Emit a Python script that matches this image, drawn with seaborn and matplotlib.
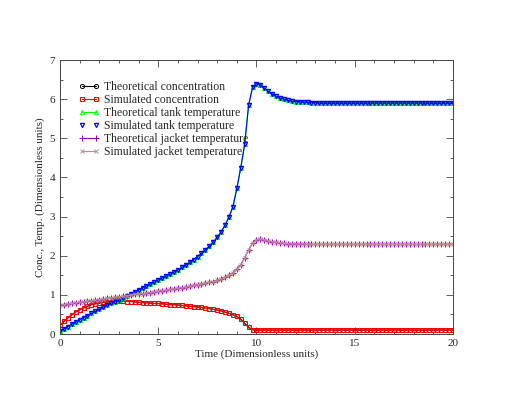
# Concentration and temperature vs time (theoretical vs simulated)

import numpy as np
import matplotlib
matplotlib.use("Agg")
import matplotlib.pyplot as plt
from matplotlib.ticker import MultipleLocator
from matplotlib.lines import Line2D
import seaborn as sns

# Time grid (dimensionless), sampled every 0.2
time = np.linspace(0, 20, 101)

# Concentration
conc = ([0.22, 0.32, 0.41, 0.49, 0.56, 0.62, 0.67, 0.71, 0.75, 0.77,
         0.79, 0.81, 0.82, 0.83, 0.84, 0.84, 0.84, 0.83, 0.83, 0.82,
         0.81, 0.80, 0.80, 0.79, 0.78, 0.78, 0.77, 0.76, 0.75, 0.75,
         0.74, 0.73, 0.72, 0.71, 0.70, 0.69, 0.68, 0.66, 0.65, 0.63,
         0.61, 0.59, 0.56, 0.53, 0.49, 0.45, 0.38, 0.27, 0.17, 0.11]
        + [0.10] * 51)

# Tank temperature
tank = ([0.08, 0.13, 0.19, 0.25, 0.31, 0.37, 0.42, 0.47, 0.53, 0.58,
         0.63, 0.69, 0.74, 0.79, 0.83, 0.88, 0.93, 0.98, 1.03, 1.08,
         1.13, 1.18, 1.23, 1.28, 1.33, 1.38, 1.43, 1.48, 1.53, 1.58,
         1.64, 1.70, 1.76, 1.83, 1.90, 1.98, 2.06, 2.15, 2.24, 2.35,
         2.47, 2.61, 2.78, 2.99, 3.25, 3.72, 4.25, 4.85, 5.85, 6.30,
         6.40, 6.37, 6.29, 6.20, 6.13, 6.07, 6.03, 6.00, 5.97, 5.95,
         5.94, 5.93, 5.92, 5.92, 5.91, 5.91, 5.90, 5.90, 5.90, 5.90]
        + [5.90] * 31)

# Jacket temperature
jacket = ([0.74, 0.75, 0.77, 0.78, 0.80, 0.81, 0.82, 0.84, 0.85, 0.87,
           0.88, 0.89, 0.91, 0.92, 0.94, 0.95, 0.96, 0.98, 0.99, 1.01,
           1.02, 1.03, 1.05, 1.06, 1.08, 1.09, 1.11, 1.12, 1.14, 1.15,
           1.17, 1.18, 1.20, 1.22, 1.24, 1.26, 1.28, 1.30, 1.32, 1.34,
           1.37, 1.41, 1.45, 1.50, 1.57, 1.66, 1.77, 1.95, 2.15, 2.32,
           2.41, 2.43, 2.41, 2.38, 2.36, 2.34, 2.33, 2.32, 2.31, 2.30,
           2.30, 2.30, 2.30, 2.29, 2.29, 2.29, 2.29, 2.29, 2.29, 2.29]
          + [2.29] * 31)

labels = ["Theoretical concentration", "Simulated concentration",
          "Theoretical tank temperature", "Simulated tank temperature",
          "Theoretical jacket temperature", "Simulated jacket temperature"]

sns.set_style("ticks")
plt.rcParams["font.family"] = ["Liberation Serif", "DejaVu Serif"]

fig = plt.figure(figsize=(5.1, 3.95), dpi=100)
ax = fig.add_axes([0.1176, 0.1544, 0.7706, 0.6936])

ms = 3.0
sns.lineplot(x=time, y=conc, ax=ax, color="black", lw=0.8, marker="o",
             markersize=ms, markerfacecolor="none", markeredgecolor="black",
             markeredgewidth=0.7)
sns.lineplot(x=time, y=conc, ax=ax, color="red", lw=0.8, marker="s",
             markersize=ms, markerfacecolor="none", markeredgecolor="red",
             markeredgewidth=0.7)
sns.lineplot(x=time, y=tank, ax=ax, color="#00ff00", lw=0.9, marker="^",
             markersize=ms, markerfacecolor="none", markeredgecolor="#00ff00",
             markeredgewidth=0.7)
sns.lineplot(x=time, y=tank, ax=ax, color="blue", lw=0.8, marker="v",
             markersize=ms, markerfacecolor="none", markeredgecolor="blue",
             markeredgewidth=0.9)
sns.lineplot(x=time, y=jacket, ax=ax, color="#9400d3", lw=0.8, marker="+",
             markersize=4.5, markeredgecolor="#9400d3", markeredgewidth=0.7)
sns.lineplot(x=time, y=jacket, ax=ax, color="#bc8f8f", lw=0.8, marker="x",
             markersize=ms, markeredgecolor="#bc8f8f", markeredgewidth=0.7)

# legend handles
handles = [
    Line2D([], [], color="black", lw=0.8, marker="o", ms=ms, mfc="none", mew=0.7),
    Line2D([], [], color="red", lw=0.8, marker="s", ms=ms, mfc="none", mew=0.7),
    Line2D([], [], color="#00ff00", lw=0.8, marker="^", ms=ms, mfc="none", mew=0.7),
    Line2D([], [], color="blue", lw=0, marker="v", ms=ms, mfc="none", mew=0.9),
    Line2D([], [], color="#9400d3", lw=0.8, marker="+", ms=4.5, mew=0.7),
    Line2D([], [], color="#bc8f8f", lw=0.8, marker="x", ms=ms, mew=0.7),
]
ax.legend(handles, labels, loc="upper left", bbox_to_anchor=(0.035, 0.94),
          frameon=False, fontsize=8.5, numpoints=2, handlelength=1.75,
          handletextpad=0.4, labelspacing=0.08, borderaxespad=0)

ax.set_xlim(0, 20)
ax.set_ylim(0, 7)
ax.xaxis.set_major_locator(MultipleLocator(5))
ax.xaxis.set_minor_locator(MultipleLocator(1))
ax.yaxis.set_major_locator(MultipleLocator(1))
ax.yaxis.set_minor_locator(MultipleLocator(0.5))
ax.tick_params(which="both", direction="in", top=True, right=True,
               labelsize=8, width=0.6, color="#444444")
ax.tick_params(which="major", length=5)
ax.tick_params(which="minor", length=2.5)
for s in ax.spines.values():
    s.set_linewidth(0.7)
    s.set_color("#444444")

ax.set_xlabel("Time (Dimensionless units)", fontsize=8, labelpad=1)
ax.set_ylabel("Conc., Temp. (Dimensionless units)", fontsize=8, labelpad=3)

fig.savefig("out.png", dpi=100)
